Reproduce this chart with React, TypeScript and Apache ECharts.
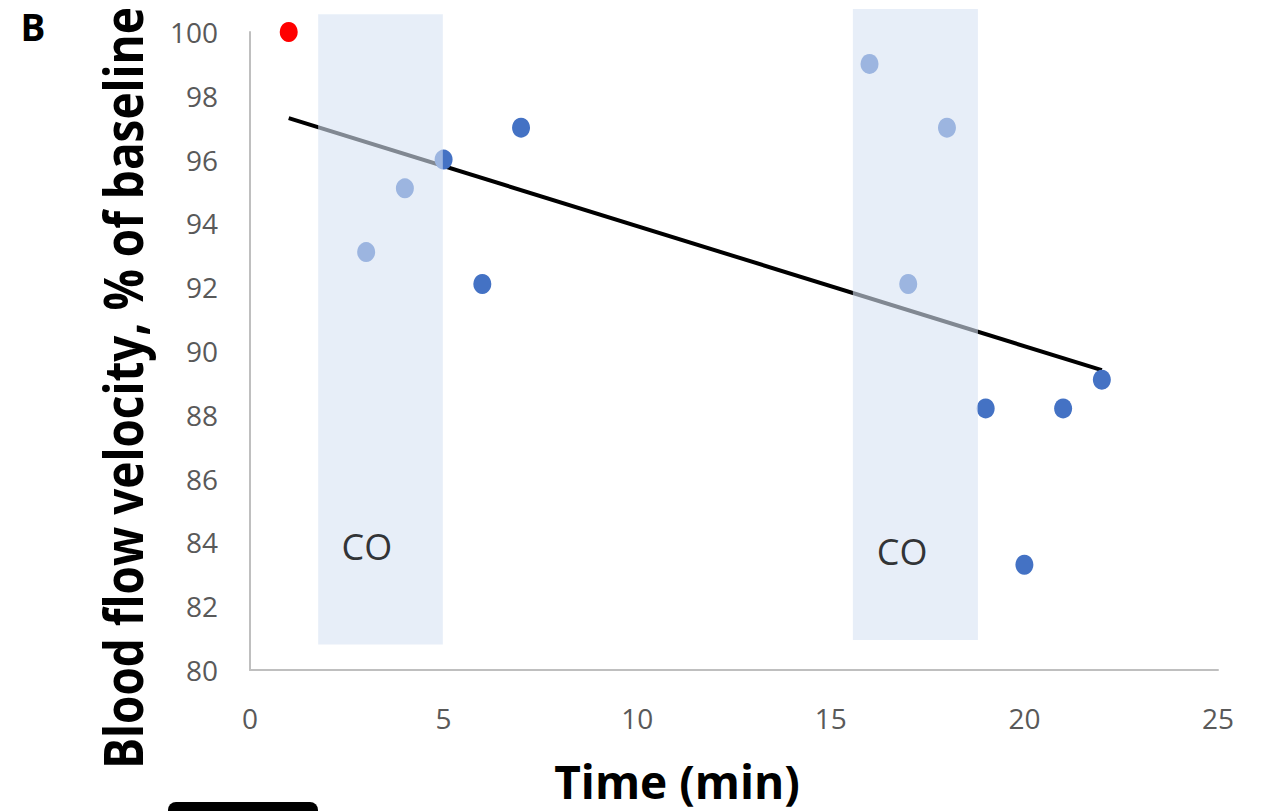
import React, { useEffect, useRef } from "react";
import * as echarts from "echarts";

const timeMin = [1, 3, 4, 5, 6, 7, 16, 17, 18, 19, 20, 21, 22];
const velocity = [100, 93.1, 95.1, 96, 92.1, 97, 99, 92.1, 97, 88.2, 83.3, 88.2, 89.1];
const trendX = [1, 22];
const trendY = [97.3, 89.4];
const coStart = [1.76, 15.57];
const coEnd = [4.98, 18.8];
const coBottom = [80.8, 80.94];
const coTop = [100.56, 100.72];
const coLabelX = [3.02, 16.84];
const coLabelY = [83.86, 83.7];
const coLabelText = ["CO", "CO"];
const xTitle = "Time (min)";
const yTitle = "Blood flow velocity, % of baseline";
const panelLetter = "B";

export default function App() {
  const ref = useRef<HTMLDivElement>(null);
  useEffect(() => {
    const chart = echarts.init(ref.current!, null, { renderer: "svg" });
    const font = "'Open Sans', 'Noto Sans', sans-serif";
    chart.setOption({
      animation: false,
      backgroundColor: "#ffffff",
      textStyle: { fontFamily: font },
      grid: {
        left: 250,
        top: 32,
        width: 968,
        height: 638,
        containLabel: false,
        outerBoundsMode: "none",
      },
      xAxis: {
        type: "value",
        min: 0,
        max: 25,
        interval: 5,
        axisLine: { show: true, lineStyle: { color: "#BFBFBF", width: 2 } },
        axisTick: { show: false },
        splitLine: { show: false },
        axisLabel: { fontSize: 28, color: "#595959", margin: 34, fontFamily: font },
      },
      yAxis: {
        type: "value",
        min: 80,
        max: 100,
        interval: 2,
        axisLine: { show: true, lineStyle: { color: "#BFBFBF", width: 2 } },
        axisTick: { show: false },
        splitLine: { show: false },
        axisLabel: { fontSize: 28, color: "#595959", margin: 32, fontFamily: font },
      },
      graphic: [
        {
          type: "text",
          x: 33,
          y: 26,
          style: {
            text: panelLetter,
            fontSize: 37,
            fontWeight: "bold",
            fill: "#000",
            fontFamily: font,
            align: "center",
            verticalAlign: "middle",
          },
        },
        {
          type: "text",
          x: 677,
          y: 781,
          style: {
            text: xTitle,
            fontSize: 46,
            fontWeight: "bold",
            fill: "#000",
            fontFamily: font,
            align: "center",
            verticalAlign: "middle",
          },
        },
        {
          type: "text",
          x: 122,
          y: 388,
          rotation: Math.PI / 2,
          scaleX: 0.85,
          style: {
            text: yTitle,
            fontSize: 54,
            fontWeight: "bold",
            fill: "#000",
            fontFamily: font,
            align: "center",
            verticalAlign: "middle",
          },
        },
        {
          type: "rect",
          shape: { x: 168, y: 802, width: 150, height: 20, r: 8 },
          style: { fill: "#000" },
        },
      ],
      series: [
        {
          type: "line",
          data: trendX.map((x, i) => [x, trendY[i]]),
          symbol: "none",
          lineStyle: { color: "#000", width: 4 },
          z: 2,
        },
        {
          type: "scatter",
          data: timeMin.map((x, i) => ({
            value: [x, velocity[i]],
            itemStyle: { color: i === 0 ? "#FF0000" : "#4472C4", opacity: 1 },
          })),
          symbol: "circle",
          symbolSize: [18, 20],
          z: 3,
        },
        {
          type: "custom",
          z: 10,
          clip: false,
          silent: true,
          data: coStart.map((x0, i) => [x0, coBottom[i], coEnd[i], coTop[i]]),
          renderItem: (params: any, api: any) => {
            const p0 = api.coord([api.value(0), api.value(1)]);
            const p1 = api.coord([api.value(2), api.value(3)]);
            return {
              type: "rect",
              shape: {
                x: Math.min(p0[0], p1[0]),
                y: Math.min(p0[1], p1[1]),
                width: Math.abs(p1[0] - p0[0]),
                height: Math.abs(p1[1] - p0[1]),
              },
              style: { fill: "rgba(215,226,243,0.6)" },
            };
          },
        },
        {
          type: "scatter",
          z: 11,
          symbolSize: 0,
          silent: true,
          data: coLabelX.map((x, i) => ({
            value: [x, coLabelY[i]],
            label: {
              show: true,
              position: "inside",
              formatter: coLabelText[i],
              fontSize: 36,
              color: "#000",
              fontFamily: font,
            },
          })),
        },
      ],
    });
    return () => chart.dispose();
  }, []);
  return (
    <div
      ref={ref}
      style={{ position: "fixed", left: 0, top: 0, width: 1261, height: 811, background: "#fff" }}
    />
  );
}
